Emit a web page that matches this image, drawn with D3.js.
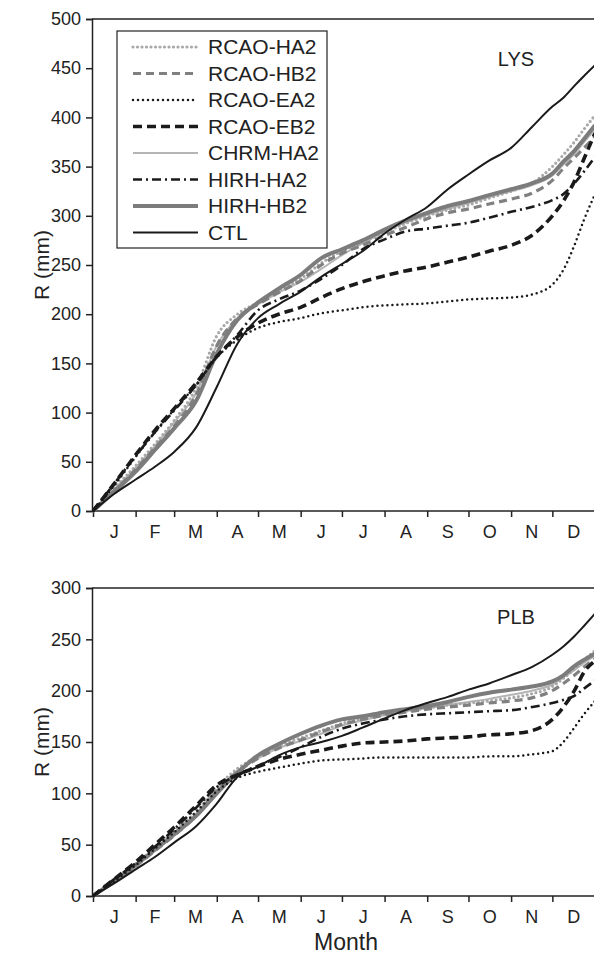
<!DOCTYPE html>
<html>
<head>
<meta charset="utf-8">
<script src="https://cdn.jsdelivr.net/npm/d3@7"></script>
<style>
  html, body { margin: 0; padding: 0; background: #fff; }
  svg text { font-family: "Liberation Sans", Arial, sans-serif; fill: #222; }
</style>
</head>
<body>
<svg id="chart" width="594" height="954"></svg>
<script>
// ---------- data ----------
const days = [0, 15, 31, 45, 59, 75, 90, 105, 120, 135, 151, 166, 181, 196, 212, 227, 243, 258, 273, 288, 304, 319, 334, 342, 350, 357, 365];
const monthLabels = ["J", "F", "M", "A", "M", "J", "J", "A", "S", "O", "N", "D"];
const monthStarts = [0, 31, 59, 90, 120, 151, 181, 212, 243, 273, 304, 334, 365];
const yTicksLYS = [0, 50, 100, 150, 200, 250, 300, 350, 400, 450, 500];
const yTicksPLB = [0, 50, 100, 150, 200, 250, 300];
const seriesNames = ["RCAO-HA2", "RCAO-HB2", "RCAO-EA2", "RCAO-EB2", "CHRM-HA2", "HIRH-HA2", "HIRH-HB2", "CTL"];

// LYS (mm, cumulative)
const lysRCAO_HA2 = [0, 22, 46, 68, 92, 125, 178, 200, 212, 224, 236, 252, 264, 273, 283, 292, 300, 306, 311, 318, 325, 333, 350, 362, 375, 388, 402];
const lysRCAO_HB2 = [0, 20, 42, 64, 86, 118, 168, 196, 210, 222, 234, 250, 262, 270, 280, 288, 297, 303, 307, 312, 317, 323, 336, 348, 359, 369, 380];
const lysRCAO_EA2 = [0, 25, 55, 80, 103, 128, 156, 174, 186, 192, 196, 201, 204, 207, 209, 210, 211, 213, 215, 216, 217, 220, 230, 245, 270, 296, 322];
const lysRCAO_EB2 = [0, 27, 57, 82, 104, 130, 157, 177, 191, 200, 207, 217, 226, 233, 239, 244, 248, 253, 258, 264, 270, 280, 300, 315, 335, 358, 384];
const lysCHRM_HA2 = [0, 21, 44, 66, 90, 120, 168, 196, 210, 222, 233, 246, 260, 272, 284, 293, 301, 307, 313, 319, 325, 331, 341, 352, 363, 375, 388];
const lysHIRH_HA2 = [0, 27, 56, 80, 102, 128, 157, 179, 204, 215, 224, 236, 250, 266, 276, 284, 287, 290, 293, 298, 304, 309, 316, 322, 333, 345, 360];
const lysHIRH_HB2 = [0, 19, 40, 62, 84, 112, 160, 194, 212, 226, 240, 257, 266, 275, 286, 295, 303, 310, 315, 321, 327, 333, 343, 355, 366, 378, 392];
const lysCTL      = [0, 17, 32, 45, 60, 85, 126, 170, 196, 210, 223, 238, 251, 264, 282, 296, 309, 327, 342, 356, 369, 390, 411, 420, 432, 442, 453];

// PLB (mm, cumulative)
const plbRCAO_HA2 = [0, 15, 31, 47, 63, 82, 106, 124, 136, 146, 154, 161, 168, 173, 177, 180, 183, 186, 188, 190, 193, 197, 204, 212, 221, 230, 239];
const plbRCAO_HB2 = [0, 14, 29, 44, 59, 78, 102, 121, 134, 144, 152, 160, 167, 172, 176, 179, 182, 184, 186, 188, 190, 193, 200, 207, 215, 223, 231];
const plbRCAO_EA2 = [0, 14, 30, 46, 62, 82, 102, 115, 121, 125, 129, 132, 133, 134, 135, 135, 135, 135, 135, 136, 136, 138, 141, 150, 164, 177, 190];
const plbRCAO_EB2 = [0, 16, 33, 50, 67, 88, 108, 118, 126, 133, 138, 142, 146, 149, 150, 151, 153, 154, 155, 157, 158, 161, 172, 184, 200, 218, 229];
const plbCHRM_HA2 = [0, 14, 30, 45, 61, 80, 103, 122, 134, 144, 151, 158, 166, 171, 176, 180, 183, 186, 189, 192, 196, 200, 206, 213, 220, 227, 234];
const plbHIRH_HA2 = [0, 16, 32, 48, 65, 86, 106, 118, 127, 135, 145, 155, 163, 168, 172, 175, 177, 178, 179, 180, 181, 184, 188, 191, 195, 202, 210];
const plbHIRH_HB2 = [0, 14, 30, 45, 60, 78, 100, 120, 137, 148, 158, 166, 172, 175, 179, 182, 185, 189, 194, 198, 201, 204, 209, 215, 224, 230, 236];
const plbCTL      = [0, 12, 26, 38, 52, 68, 90, 116, 126, 137, 145, 150, 156, 164, 173, 181, 188, 194, 201, 207, 215, 223, 235, 243, 253, 263, 275];

// ---------- styles ----------
const styles = {
  "RCAO-HA2": { color: "#a8a8a8", width: 3.2, dash: "0,4.5", cap: "round" },
  "RCAO-HB2": { color: "#808080", width: 3.2, dash: "8,5", cap: "butt" },
  "RCAO-EA2": { color: "#1a1a1a", width: 2.5, dash: "0,5", cap: "round" },
  "RCAO-EB2": { color: "#1a1a1a", width: 3.6, dash: "9,5", cap: "butt" },
  "CHRM-HA2": { color: "#b4b4b4", width: 2, dash: null, cap: "butt" },
  "HIRH-HA2": { color: "#1a1a1a", width: 2.6, dash: "9,4,2,4", cap: "butt" },
  "HIRH-HB2": { color: "#7c7c7c", width: 4, dash: null, cap: "butt" },
  "CTL":      { color: "#1a1a1a", width: 2, dash: null, cap: "butt" }
};
const drawOrder = ["CHRM-HA2", "RCAO-HA2", "RCAO-HB2", "HIRH-HB2", "RCAO-EA2", "RCAO-EB2", "HIRH-HA2", "CTL"];

const panels = [
  { name: "LYS", ticks: yTicksLYS, max: 500, top: 19, bottom: 511,
    data: { "RCAO-HA2": lysRCAO_HA2, "RCAO-HB2": lysRCAO_HB2, "RCAO-EA2": lysRCAO_EA2, "RCAO-EB2": lysRCAO_EB2,
            "CHRM-HA2": lysCHRM_HA2, "HIRH-HA2": lysHIRH_HA2, "HIRH-HB2": lysHIRH_HB2, "CTL": lysCTL },
    labelY: 66, legend: true },
  { name: "PLB", ticks: yTicksPLB, max: 300, top: 588, bottom: 896,
    data: { "RCAO-HA2": plbRCAO_HA2, "RCAO-HB2": plbRCAO_HB2, "RCAO-EA2": plbRCAO_EA2, "RCAO-EB2": plbRCAO_EB2,
            "CHRM-HA2": plbCHRM_HA2, "HIRH-HA2": plbHIRH_HA2, "HIRH-HB2": plbHIRH_HB2, "CTL": plbCTL },
    labelY: 624, legend: false }
];

// ---------- drawing ----------
const svg = d3.select("#chart");
const left = 92, right = 595;
const x = d3.scaleLinear().domain([0, 365]).range([left + 1, right]);

svg.append("defs").append("clipPath").attr("id", "clipAll")
  .append("rect").attr("x", left).attr("y", 0).attr("width", 594 - left).attr("height", 954);

panels.forEach(p => {
  const y = d3.scaleLinear().domain([0, p.max]).range([p.bottom, p.top]);
  const g = svg.append("g");

  // top frame line
  g.append("line").attr("x1", left).attr("x2", 594).attr("y1", p.top).attr("y2", p.top)
    .attr("stroke", "#222").attr("stroke-width", 1.5);

  // y axis
  const yAxis = d3.axisLeft(y).tickValues(p.ticks).tickSize(6).tickPadding(5);
  const ya = g.append("g").attr("transform", `translate(${left},0)`).call(yAxis);
  ya.select(".domain").attr("stroke", "#222").attr("stroke-width", 1.5);
  ya.selectAll(".tick line").attr("stroke", "#222").attr("stroke-width", 1.5);
  ya.selectAll(".tick text").attr("font-size", 18).attr("fill", "#222")
    .style("font-family", '"Liberation Sans", Arial, sans-serif');

  // x axis (ticks at month boundaries)
  const xAxis = d3.axisBottom(x).tickValues(monthStarts.slice(0, 12)).tickSize(6).tickFormat("");
  const xa = g.append("g").attr("transform", `translate(0,${p.bottom})`).call(xAxis);
  xa.select(".domain").attr("stroke", "#222").attr("stroke-width", 1.5)
    .attr("d", `M${left},0H594`);
  xa.selectAll(".tick line").attr("stroke", "#222").attr("stroke-width", 1.5);

  // month labels
  g.selectAll(".mlab").data(monthLabels).enter().append("text")
    .attr("x", (d, i) => x((monthStarts[i] + monthStarts[i + 1]) / 2))
    .attr("y", p.bottom + 27)
    .attr("text-anchor", "middle").attr("font-size", 18).text(d => d);

  // y title
  g.append("text")
    .attr("transform", `translate(49,${(p.top + p.bottom) / 2}) rotate(-90)`)
    .attr("text-anchor", "middle").attr("font-size", 21).text("R (mm)");

  // panel label
  g.append("text").attr("x", 516).attr("y", p.labelY).attr("text-anchor", "middle")
    .attr("font-size", 20).text(p.name);

  // lines
  const line = d3.line().x((d, i) => x(days[i])).y(d => y(d)).curve(d3.curveMonotoneX);
  const lg = g.append("g").attr("clip-path", "url(#clipAll)");
  drawOrder.forEach(name => {
    const s = styles[name];
    lg.append("path").datum(p.data[name])
      .attr("d", line)
      .attr("fill", "none")
      .attr("stroke", s.color)
      .attr("stroke-width", s.width)
      .attr("stroke-linecap", s.cap)
      .attr("stroke-linejoin", "round")
      .attr("stroke-dasharray", s.dash);
  });

  // legend
  if (p.legend) {
    const lgX = 117, lgY = 31, rowH = 26.5;
    const leg = g.append("g");
    leg.append("rect").attr("x", lgX).attr("y", lgY).attr("width", 210).attr("height", 217)
      .attr("fill", "#fff").attr("stroke", "#222").attr("stroke-width", 1.2);
    seriesNames.forEach((name, i) => {
      const s = styles[name];
      const cy = lgY + 16 + i * rowH;
      leg.append("line").attr("x1", 133).attr("x2", 198).attr("y1", cy).attr("y2", cy)
        .attr("stroke", s.color).attr("stroke-width", s.width)
        .attr("stroke-linecap", s.cap).attr("stroke-dasharray", s.dash);
      leg.append("text").attr("x", 208).attr("y", cy).attr("dy", "0.35em")
        .attr("font-size", 21).text(name);
    });
  }
});

// x title
svg.append("text").attr("x", 346).attr("y", 950).attr("text-anchor", "middle")
  .attr("font-size", 23).text("Month");
</script>
</body>
</html>
